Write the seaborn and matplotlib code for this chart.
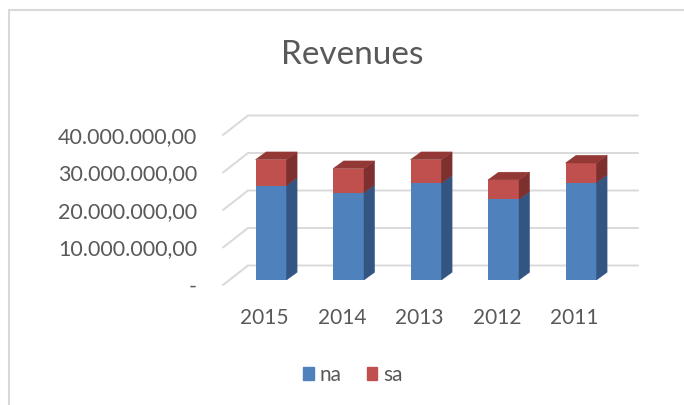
import pandas as pd
import seaborn as sns
import matplotlib.pyplot as plt
from matplotlib.patches import Polygon, Rectangle, Patch

# Data
years = ['2015', '2014', '2013', '2012', '2011']
na = [25.2e6, 23.3e6, 25.8e6, 21.5e6, 26.0e6]
sa = [6.9e6, 6.4e6, 6.3e6, 5.2e6, 5.2e6]
yticks = [0, 10e6, 20e6, 30e6, 40e6]

# Colors
blue, red = '#4F81BD', '#C0504D'
blue_side, red_side, red_top = '#325582', '#7E302E', '#943836'
grid_c = '#D9D9D9'
text_c = '#595959'

sns.set_style('white')
plt.rcParams['font.family'] = ['Lato', 'DejaVu Sans']

W, H = 684, 405
fig = plt.figure(figsize=(W / 100, H / 100), dpi=100)

# front plane of the bars, in pixels
x0, x1 = 232.25, 619.75   # x = -0.5 .. 4.5
ybase, ytop = 280, 130    # y = 0 .. 40M
ax = fig.add_axes([x0 / W, (H - ybase) / H, (x1 - x0) / W, (ybase - ytop) / H])

df = pd.DataFrame({'year': years, 'na': na, 'sa': sa})
df['total'] = df['na'] + df['sa']

sns.barplot(data=df, x='year', y='total', color=red, width=0.4,
            saturation=1, ax=ax, zorder=3, linewidth=0)
sns.barplot(data=df, x='year', y='na', color=blue, width=0.4,
            saturation=1, ax=ax, zorder=3, linewidth=0)
ax.set_xlim(-0.5, 4.5)
ax.set_ylim(0, 40e6)
ax.axis('off')

# pixel -> data units
px_x = 1 / 77.5
px_y = 10e6 / 37.5

# 3D faces of the bars
ddx, ddy = 10.6 * px_x, 7.7 * px_y
n = len(years)
for i in range(n):
    tot_p = ax.patches[i]
    na_p = ax.patches[n + i]
    xl = tot_p.get_x()
    xr = xl + tot_p.get_width()
    t = tot_p.get_height()
    b = na_p.get_height()
    faces = [
        ([(xr, 0), (xr + ddx, ddy), (xr + ddx, b + ddy), (xr, b)], blue_side),
        ([(xr, b), (xr + ddx, b + ddy), (xr + ddx, t + ddy), (xr, t)], red_side),
        ([(xl, t), (xr, t), (xr + ddx, t + ddy), (xl + ddx, t + ddy)], red_top),
    ]
    for pts, c in faces:
        ax.add_patch(Polygon(pts, closed=True, fc=c, ec=c, lw=0.3, zorder=3))

# walls: side diagonals + back gridlines
fx, fy = (223 - x0) * px_x - 0.5, -5 * px_y
bx, by = (248 - x0) * px_x - 0.5, 14.5 * px_y
bx_r = (638 - x0) * px_x - 0.5
for v in yticks:
    ax.plot([fx, bx, bx_r], [v + fy, v + by, v + by], color=grid_c,
            lw=1.4, zorder=1, clip_on=False, solid_joinstyle='miter')


def fmt(v):
    if v == 0:
        return '-'
    s = f'{v:,.2f}'
    return s.replace(',', 'X').replace('.', ',').replace('X', '.')


lx = (197 - x0) * px_x - 0.5
for v in yticks:
    ax.text(lx, v + fy - 2 * px_y, fmt(v), ha='right', va='center',
            fontsize=15.5, color=text_c)

for i, yr in enumerate(years):
    ax.text(i - 6.6 * px_x, -37.5 * px_y, yr, ha='center', va='center',
            fontsize=15, color=text_c)

fig.text(352 / W, 1 - 55 / H, 'Revenues', ha='center', va='center',
         fontsize=24, color=text_c)

handles = [Patch(color=blue, label='na'), Patch(color=red, label='sa')]
leg = fig.legend(handles=handles, loc='center', bbox_to_anchor=(353 / W, 1 - 375 / H),
                 ncol=2, frameon=False, fontsize=15, handlelength=0.5,
                 handleheight=0.55, handletextpad=0.3, columnspacing=1.2)
for t in leg.get_texts():
    t.set_color(text_c)

# chart area border
fig.patches.append(Rectangle((9 / W, -0.1), 2, (H - 10) / H + 0.1,
                             transform=fig.transFigure, fill=False,
                             ec=grid_c, lw=1.5))

fig.savefig('out.png', dpi=100)
